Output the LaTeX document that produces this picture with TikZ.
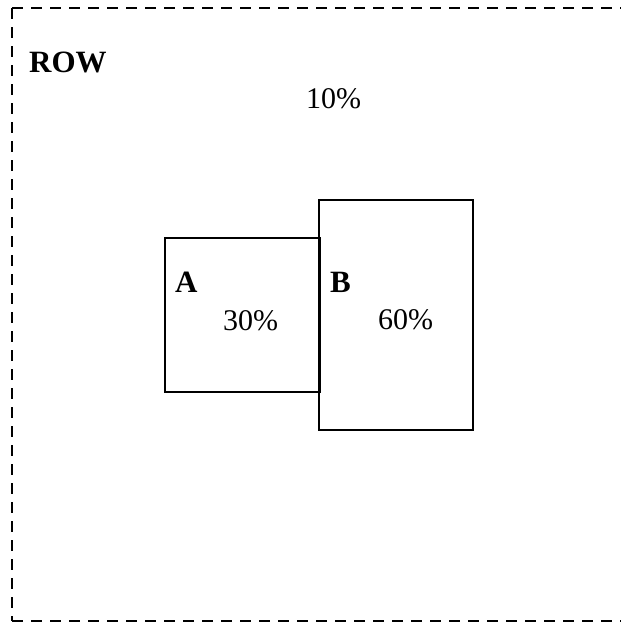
\documentclass[tikz,border=0pt]{standalone}
\usepackage{fontspec}
\setmainfont{Liberation Serif}
\tikzset{
  dashline/.style={line width=2.6pt, dash pattern=on 11pt off 8pt},
  boxnode/.style={draw, line width=2pt, inner sep=0pt},
  txt/.style={anchor=base west, inner sep=0pt, font=\fontsize{30}{36}\selectfont},
  btxt/.style={anchor=base west, inner sep=0pt, font=\fontsize{31}{37}\selectfont\bfseries},
}
\begin{document}
\begin{tikzpicture}[x=1pt,y=-1pt]
\useasboundingbox (0,0) rectangle (621,622);
\clip (0,0) rectangle (621,622);
\coordinate (tl) at (12,8);
\coordinate (tr) at (650,8);
\coordinate (bl) at (12,621);
\coordinate (br) at (650,621);
\draw[dashline] (tl) -- (tr);
\draw[dashline] (tl) -- (bl);
\draw[dashline] (bl) -- (br);
\node[btxt] (row) at (29,72) {ROW};
\node[txt] (p10) at (306,108) {10\%};
\node[boxnode, minimum width=155pt, minimum height=154pt] (A) at (242.5,315) {};
\node[boxnode, minimum width=154pt, minimum height=230pt] (B) at (396,315) {};
\node[btxt] (la) at (175,292) {A};
\node[btxt] (lb) at (330,292) {B};
\node[txt] (p30) at (223,330) {30\%};
\node[txt] (p60) at (378,329) {60\%};
\end{tikzpicture}
\end{document}
